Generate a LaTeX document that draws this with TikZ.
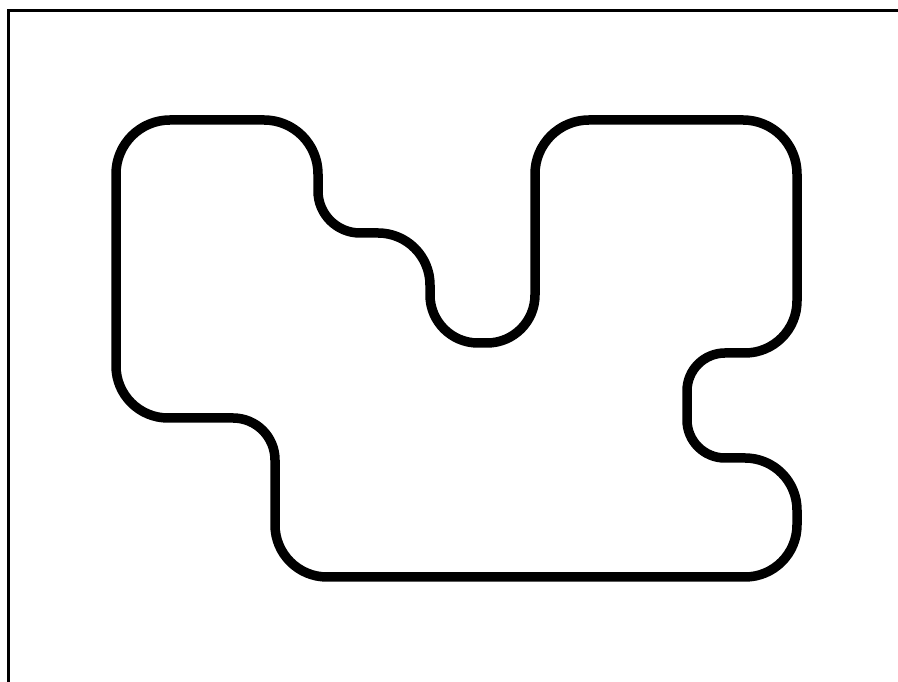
\documentclass[tikz,border=0pt]{standalone}
\begin{document}
\begin{tikzpicture}[x=1pt,y=1pt,
  framestyle/.style={line width=3pt, line join=miter},
  outline/.style={line width=9.5pt, line join=round}]
\useasboundingbox (0,0) rectangle (898,682);
\fill[white] (0,0) rectangle (898,682);
\draw[framestyle] (8,-5) -- (8,671) -- (905,671);
\draw[outline]
  (116,508) arc[start angle=180,end angle=90,radius=54]
  -- (264,562) arc[start angle=90,end angle=0,radius=54]
  -- (318,491) arc[start angle=180,end angle=270,radius=42]
  -- (378,449) arc[start angle=90,end angle=0,radius=52]
  -- (430,387) arc[start angle=180,end angle=270,radius=48]
  -- (487,339) arc[start angle=270,end angle=360,radius=48]
  -- (535,508) arc[start angle=180,end angle=90,radius=54]
  -- (743,562) arc[start angle=90,end angle=0,radius=54]
  -- (797,381) arc[start angle=0,end angle=-90,radius=52]
  -- (725,329) arc[start angle=90,end angle=180,radius=38]
  -- (687,262) arc[start angle=180,end angle=270,radius=38]
  -- (745,224) arc[start angle=90,end angle=0,radius=52]
  -- (797,157) arc[start angle=0,end angle=-90,radius=52]
  -- (327,105) arc[start angle=270,end angle=180,radius=52]
  -- (275,222) arc[start angle=0,end angle=90,radius=42]
  -- (168,264) arc[start angle=270,end angle=180,radius=52]
  -- cycle;
\end{tikzpicture}
\end{document}
